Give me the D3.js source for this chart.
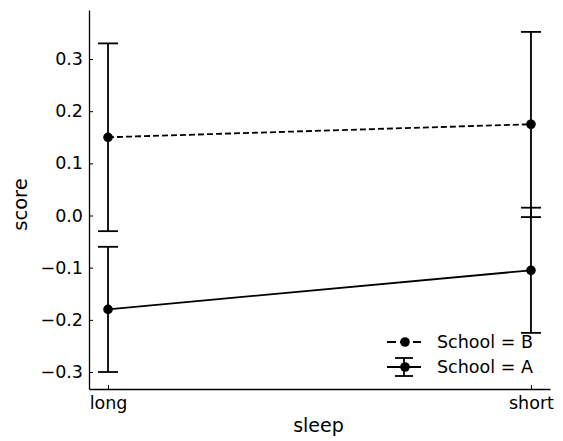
<!DOCTYPE html>
<html>
<head>
<meta charset="utf-8">
<script src="https://cdn.jsdelivr.net/npm/d3@7"></script>
<style>
  body { margin: 0; background: #fff; }
  text { font-family: "DejaVu Sans", sans-serif; fill: #000; }
</style>
</head>
<body>
<svg width="563" height="441"></svg>
<script>
var sleep = ["long", "short"];
var schools = ["B", "A"];
var means = { B: [0.15, 0.175], A: [-0.18, -0.105] };
var lower = { B: [-0.03, -0.003], A: [-0.30, -0.225] };
var upper = { B: [0.33, 0.352], A: [-0.06, 0.015] };
var yTicks = [-0.3, -0.2, -0.1, 0.0, 0.1, 0.2, 0.3];

var margin = {top: 10, right: 13, bottom: 52, left: 89},
    width = 563 - margin.left - margin.right,
    height = 441 - margin.top - margin.bottom;

var x = d3.scaleLinear().domain([-0.045, 1.045]).range([0, width]);
var y = d3.scaleLinear().domain([-0.3326, 0.394]).range([height, 0]);

var svg = d3.select("svg")
    .append("g")
    .attr("transform", "translate(" + margin.left + "," + margin.top + ")");

// Axes, ticks pointing inward
var xAxis = d3.axisBottom(x).tickValues([0, 1])
    .tickFormat(function(d) { return sleep[d]; })
    .tickSizeInner(-4).tickSizeOuter(0).tickPadding(8);
var yAxis = d3.axisLeft(y).tickValues(yTicks)
    .tickFormat(function(d) { return d3.format(".1f")(d).replace("-", "\u2212"); })
    .tickSizeInner(-4).tickSizeOuter(0).tickPadding(6);

var gx = svg.append("g")
    .attr("transform", "translate(0," + height + ")")
    .call(xAxis);
var gy = svg.append("g").call(yAxis);

[gx, gy].forEach(function(g) {
  g.selectAll("text").style("font-size", "17.5px");
  g.select(".domain").attr("stroke-width", 1.3);
  g.selectAll(".tick line").attr("stroke-width", 1);
});

svg.append("text")
    .attr("x", width / 2 - 1).attr("y", height + 43)
    .style("text-anchor", "middle").style("font-size", "19px")
    .text("sleep");

svg.append("text")
    .attr("transform", "rotate(-90)")
    .attr("x", -height / 2 - 5).attr("y", -62)
    .style("text-anchor", "middle").style("font-size", "19.5px")
    .text("score");

var dash = { B: "6,3", A: null };
var capW = 10;

schools.forEach(function(s) {
  var pts = sleep.map(function(d, i) { return [x(i), y(means[s][i])]; });

  svg.append("path")
      .attr("d", d3.line()(pts))
      .attr("fill", "none")
      .attr("stroke", "#000")
      .attr("stroke-width", 1.8)
      .attr("stroke-dasharray", dash[s]);

  sleep.forEach(function(d, i) {
    var cx = x(i);
    svg.append("line")
        .attr("x1", cx).attr("x2", cx)
        .attr("y1", y(lower[s][i])).attr("y2", y(upper[s][i]))
        .attr("stroke", "#000").attr("stroke-width", 1.8);
    [lower[s][i], upper[s][i]].forEach(function(v) {
      svg.append("line")
          .attr("x1", cx - capW).attr("x2", cx + capW)
          .attr("y1", y(v)).attr("y2", y(v))
          .attr("stroke", "#000").attr("stroke-width", 1.8);
    });
    svg.append("circle")
        .attr("cx", cx).attr("cy", y(means[s][i]))
        .attr("r", 4.8).attr("fill", "#000");
  });
});

// Legend
var legend = svg.append("g")
    .attr("transform", "translate(" + (387 - margin.left) + "," + (342 - margin.top) + ")");

schools.forEach(function(s, i) {
  var g = legend.append("g").attr("transform", "translate(0," + i * 25 + ")");
  g.append("line")
      .attr("x1", 0).attr("x2", 34).attr("y1", 0).attr("y2", 0)
      .attr("stroke", "#000").attr("stroke-width", 1.8)
      .attr("stroke-dasharray", s === "B" ? "9,4" : null);
  if (s === "A") {
    g.append("line").attr("x1", 17).attr("x2", 17).attr("y1", -9).attr("y2", 9)
        .attr("stroke", "#000").attr("stroke-width", 1.8);
    [-9, 9].forEach(function(o) {
      g.append("line").attr("x1", 8).attr("x2", 26).attr("y1", o).attr("y2", o)
          .attr("stroke", "#000").attr("stroke-width", 1.8);
    });
  }
  g.append("circle").attr("cx", 18).attr("cy", 0).attr("r", 4.8).attr("fill", "#000");
  g.append("text")
      .attr("x", 50).attr("y", 0).attr("dy", "0.35em")
      .style("font-size", "17.5px")
      .text("School = " + s);
});
</script>
</body>
</html>
